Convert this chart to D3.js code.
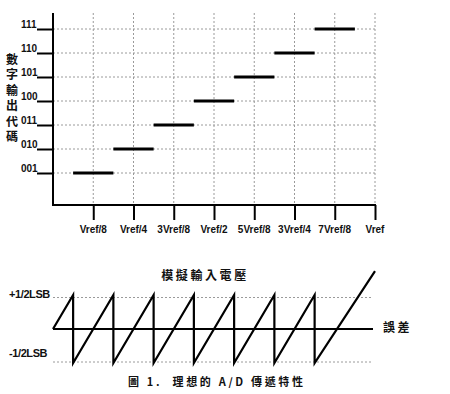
<!DOCTYPE html>
<html><head><meta charset="utf-8">
<script src="https://cdn.jsdelivr.net/npm/d3@7"></script>
<style>
html,body{margin:0;padding:0;background:#fff;}
svg{display:block;}
</style></head>
<body>
<svg id="c" width="450" height="394"></svg>
<script>
// ---- data ----
const codeLabels = ["001","010","011","100","101","110","111"];
const codeValues = [1,2,3,4,5,6,7];
const xTickLabels = ["Vref/8","Vref/4","3Vref/8","Vref/2","5Vref/8","3Vref/4","7Vref/8","Vref"];
const xTickValues = [1,2,3,4,5,6,7,8];           // in units of Vref/8
const stepStart = [0.5,1.5,2.5,3.5,4.5,5.5,6.5];  // input where each code begins
const stepEnd   = [1.5,2.5,3.5,4.5,5.5,6.5,7.5];  // input where each code ends
const errX = [0,0.5,0.5,1.5,1.5,2.5,2.5,3.5,3.5,4.5,4.5,5.5,5.5,6.5,6.5,8];
const errY = [0,0.5,-0.5,0.5,-0.5,0.5,-0.5,0.5,-0.5,0.5,-0.5,0.5,-0.5,0.5,-0.5,0.85];
const errLevels = [0.5,-0.5];
const errLevelLabels = ["+1/2LSB","-1/2LSB"];
const yAxisTitle = ["數","字","輸","出","代","碼"];
const errTitle = "模擬輸入電壓";
const errAxisLabel = "誤差";
const caption = "圖 1.  理想的 A/D 傳遞特性";

// ---- drawing ----
const svg = d3.select("#c");
const latin = "'Liberation Sans', Arial, sans-serif";
const cjk = "'Noto Sans CJK TC', 'Noto Sans CJK SC', sans-serif";

const x = d3.scaleLinear().domain([0,8]).range([53,375]);
const y = d3.scaleLinear().domain([0,7]).range([197,29]);
const axisY = y(-1/3), topY = y(7 + 2/3);

// grid
const grid = svg.append("g").attr("stroke","#9a9a9a").attr("stroke-width",1).attr("stroke-dasharray","2,2");
grid.selectAll("line.h").data(codeValues).join("line")
  .attr("x1",x(0)).attr("x2",x(8)).attr("y1",d=>y(d)).attr("y2",d=>y(d));
grid.selectAll("line.v").data(xTickValues).join("line")
  .attr("x1",d=>x(d)).attr("x2",d=>x(d)).attr("y1",topY).attr("y2",axisY);

// y axis
const yAxis = d3.axisLeft(y).tickValues(codeValues).tickFormat("").tickSize(16).tickSizeOuter(0);
const gy = svg.append("g").attr("transform",`translate(${x(0)},0)`).call(yAxis);
gy.select(".domain").remove();
gy.selectAll(".tick line").attr("stroke","#000").attr("stroke-width",2);
svg.append("line").attr("x1",x(0)).attr("x2",x(0)).attr("y1",topY).attr("y2",axisY+1)
  .attr("stroke","#000").attr("stroke-width",2);
svg.append("g").selectAll("text").data(codeValues).join("text")
  .attr("x",21).attr("y",d=>y(d)-1)
  .attr("font-family",latin).attr("font-weight","bold").attr("font-size",10)
  .attr("fill","#111").text((d,i)=>codeLabels[i]);

// x axis
const xAxis = d3.axisBottom(x).tickValues(xTickValues).tickFormat("").tickSize(15).tickSizeOuter(0);
const gx = svg.append("g").attr("transform",`translate(0,${axisY})`).call(xAxis);
gx.select(".domain").remove();
gx.selectAll(".tick line").attr("stroke","#000").attr("stroke-width",2);
svg.append("line").attr("x1",x(0)-1).attr("x2",x(8)+1).attr("y1",axisY).attr("y2",axisY)
  .attr("stroke","#000").attr("stroke-width",2);
svg.append("g").selectAll("text").data(xTickValues).join("text")
  .attr("x",d=>x(d)).attr("y",233).attr("text-anchor","middle")
  .attr("font-family",latin).attr("font-weight","bold").attr("font-size",10)
  .attr("fill","#111").text((d,i)=>xTickLabels[i]);

// steps
svg.append("g").selectAll("line").data(codeValues).join("line")
  .attr("x1",(d,i)=>x(stepStart[i])).attr("x2",(d,i)=>x(stepEnd[i]))
  .attr("y1",d=>y(d)).attr("y2",d=>y(d))
  .attr("stroke","#000").attr("stroke-width",3);

// y title
svg.append("g").selectAll("text").data(yAxisTitle).join("text")
  .attr("x",12).attr("y",(d,i)=>64+i*15.4).attr("text-anchor","middle")
  .attr("font-family",cjk).attr("font-weight","bold").attr("font-size",12)
  .attr("fill","#111").text(d=>d);

// ---- error chart ----
const ey = d3.scaleLinear().domain([-0.5,0.5]).range([363,295]);
svg.append("text").attr("x",205).attr("y",280).attr("text-anchor","middle")
  .attr("font-family",cjk).attr("font-weight","bold").attr("font-size",12)
  .attr("letter-spacing",2.6).attr("fill","#111").text(errTitle);

svg.append("g").selectAll("line").data(errLevels).join("line")
  .attr("x1",x(0)).attr("x2",372).attr("y1",d=>ey(d)+(d>0?2.5:-1)).attr("y2",d=>ey(d)+(d>0?2.5:-1))
  .attr("stroke","#9a9a9a").attr("stroke-width",1).attr("stroke-dasharray","2,2");
svg.append("g").selectAll("text").data(errLevels).join("text")
  .attr("x",9).attr("y",d=>d>0?298:357)
  .attr("font-family",latin).attr("font-weight","bold").attr("font-size",11)
  .attr("letter-spacing",-0.4).attr("fill","#111").text((d,i)=>errLevelLabels[i]);

svg.append("line").attr("x1",x(0)).attr("x2",373).attr("y1",ey(0)).attr("y2",ey(0))
  .attr("stroke","#000").attr("stroke-width",2.2);

const line = d3.line().x(d=>x(d[0])).y(d=>ey(d[1]));
svg.append("path").datum(errX.map((v,i)=>[v,errY[i]]))
  .attr("d",line).attr("fill","none").attr("stroke","#000").attr("stroke-width",2.2)
  .attr("stroke-linejoin","miter");

svg.append("text").attr("x",383).attr("y",332)
  .attr("font-family",cjk).attr("font-weight","bold").attr("font-size",12)
  .attr("letter-spacing",2.5).attr("fill","#111").text(errAxisLabel);

// caption
svg.append("text").attr("x",128).attr("y",386)
  .attr("xml:space","preserve").style("white-space","pre")
  .attr("font-family",cjk).attr("font-weight","bold").attr("font-size",11)
  .attr("textLength",175).attr("lengthAdjust","spacing")
  .attr("fill","#111").text(caption);
</script>
</body></html>
